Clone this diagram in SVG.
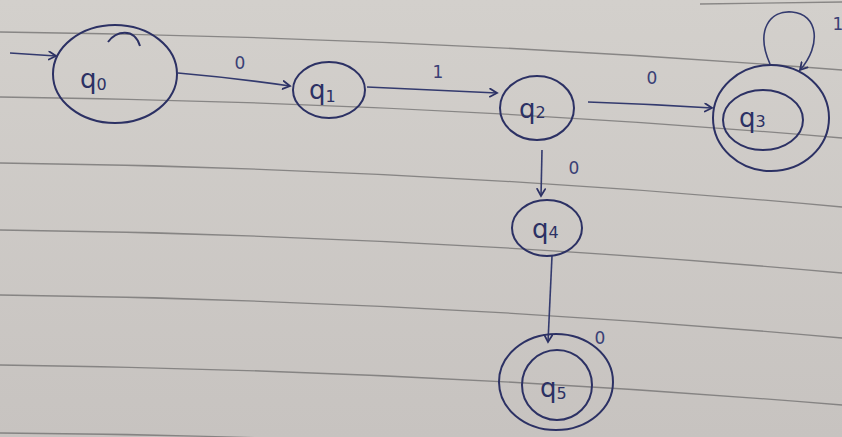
<svg xmlns="http://www.w3.org/2000/svg" width="842" height="437" viewBox="0 0 842 437">
  <defs>
    <marker id="arr" markerWidth="10" markerHeight="10" refX="8" refY="5" orient="auto" markerUnits="userSpaceOnUse">
      <path d="M1,1 L8,5 L1,9" fill="none" stroke="#2c3164" stroke-width="1.8" stroke-linecap="round"/>
    </marker>
    <linearGradient id="paper" x1="0" y1="0" x2="0" y2="1">
      <stop offset="0" stop-color="#d3d0cc"/>
      <stop offset="1" stop-color="#c7c3c0"/>
    </linearGradient>
  </defs>
  <style>
    .rule { fill: none; stroke: #6f6d6e; stroke-width: 1.3; opacity: 0.75; }
    .st { fill: none; stroke: #2c3164; stroke-width: 2; }
    .edge { fill: none; stroke: #333a6e; stroke-width: 1.6; marker-end: url(#arr); }
    .lbl { font-family: "DejaVu Sans", "Liberation Sans", sans-serif; fill: #2c3164; font-size: 26px; }
    .sub { font-size: 16px; }
    .el { font-family: "DejaVu Sans", "Liberation Sans", sans-serif; fill: #3a4075; font-size: 17px; text-anchor: middle; }
  </style>
  <rect x="0" y="0" width="842" height="437" fill="url(#paper)"/>
  <g id="paper-lines">
    <path class="rule" d="M700,4 L842,2"/>
    <path class="rule" d="M0,32 Q420,37 842,70"/>
    <path class="rule" d="M0,97 Q420,102 842,138"/>
    <path class="rule" d="M0,163 Q420,168 842,207"/>
    <path class="rule" d="M0,230 Q420,235 842,273"/>
    <path class="rule" d="M0,295 Q420,300 842,338"/>
    <path class="rule" d="M0,365 Q420,370 842,405"/>
    <path class="rule" d="M0,433 Q420,436 842,470"/>
  </g>
  <g id="connectors">
    <path id="start" class="edge" d="M10,53 L56,56"/>
    <path id="e01" class="edge" d="M178,73 Q235,78 290,86"/>
    <path id="e12" class="edge" d="M367,87 Q430,90 497,93"/>
    <path id="e23" class="edge" d="M588,102 Q650,104 712,108"/>
    <path id="e24" class="edge" d="M542,150 L541,196"/>
    <path id="e45" class="edge" d="M552,256 L548,342"/>
    <path id="e33" class="edge" d="M770,64 C755,30 770,10 792,12 C818,14 822,45 800,70"/>
    <text class="el" x="240" y="69">0</text>
    <text class="el" x="438" y="78">1</text>
    <text class="el" x="652" y="84">0</text>
    <text class="el" x="574" y="174">0</text>
    <text class="el" x="600" y="344">0</text>
    <text class="el" x="838" y="30">1</text>
  </g>
  <g id="q0">
    <ellipse class="st" cx="115" cy="74" rx="62" ry="49"/>
    <path class="st" d="M108,42 C116,31 134,27 140,46"/>
    <text class="lbl" x="80" y="88" font-size="38">q<tspan class="sub" dy="2">0</tspan></text>
  </g>
  <g id="q1">
    <ellipse class="st" cx="329" cy="90" rx="36" ry="28"/>
    <text class="lbl" x="309" y="99" font-size="22">q<tspan class="sub" font-size="13" dy="3">1</tspan></text>
  </g>
  <g id="q2">
    <ellipse class="st" cx="537" cy="108" rx="37" ry="32"/>
    <text class="lbl" x="519" y="118" font-size="24">q<tspan class="sub" dy="0">2</tspan></text>
  </g>
  <g id="q3">
    <ellipse class="st" cx="771" cy="118" rx="58" ry="53"/>
    <ellipse class="st" cx="763" cy="120" rx="40" ry="30"/>
    <text class="lbl" x="739" y="127" font-size="24">q<tspan class="sub" dy="0">3</tspan></text>
  </g>
  <g id="q4">
    <ellipse class="st" cx="547" cy="228" rx="35" ry="28"/>
    <text class="lbl" x="532" y="238" font-size="20">q<tspan class="sub" font-size="13" dy="0">4</tspan></text>
  </g>
  <g id="q5">
    <ellipse class="st" cx="556" cy="382" rx="57" ry="48"/>
    <ellipse class="st" cx="557" cy="385" rx="35" ry="35"/>
    <text class="lbl" x="540" y="397" font-size="22">q<tspan class="sub" dy="2">5</tspan></text>
  </g>
</svg>
